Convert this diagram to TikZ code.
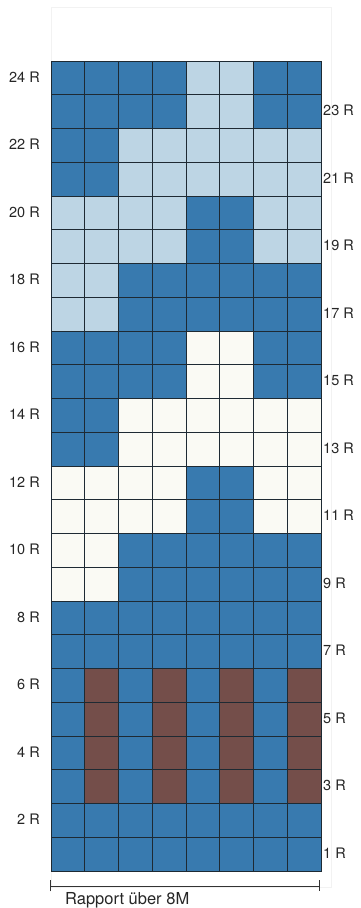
\documentclass[tikz,border=0pt]{standalone}
\usepackage{fontspec}
\setmainfont{TeX Gyre Heros}
\usetikzlibrary{arrows.meta, positioning}
\definecolor{dk}{HTML}{387AAF}
\definecolor{lt}{HTML}{BDD5E4}
\definecolor{wh}{HTML}{FAFAF4}
\definecolor{bn}{HTML}{744E4A}
\definecolor{gridline}{HTML}{1E2A33}

\begin{document}
\begin{tikzpicture}[
    x=1pt, y=1pt,
    cell/.style={draw=gridline, line width=0.8pt},
    rowlabel/.style={font=\fontsize{14.5}{16}\selectfont, text=black!85, inner sep=0pt},
    rapport/.style={font=\fontsize{16.5}{18}\selectfont, text=black!85, inner sep=0pt}
  ]
  \useasboundingbox (0,0) rectangle (360,908);
  \draw[black!5, line width=0.8pt] (51,21) rectangle (331,901);
  % chart, row 24 at top
  \foreach \r/\cols in {
      24/{dk,dk,dk,dk,lt,lt,dk,dk}, 23/{dk,dk,dk,dk,lt,lt,dk,dk},
      22/{dk,dk,lt,lt,lt,lt,lt,lt}, 21/{dk,dk,lt,lt,lt,lt,lt,lt},
      20/{lt,lt,lt,lt,dk,dk,lt,lt}, 19/{lt,lt,lt,lt,dk,dk,lt,lt},
      18/{lt,lt,dk,dk,dk,dk,dk,dk}, 17/{lt,lt,dk,dk,dk,dk,dk,dk},
      16/{dk,dk,dk,dk,wh,wh,dk,dk}, 15/{dk,dk,dk,dk,wh,wh,dk,dk},
      14/{dk,dk,wh,wh,wh,wh,wh,wh}, 13/{dk,dk,wh,wh,wh,wh,wh,wh},
      12/{wh,wh,wh,wh,dk,dk,wh,wh}, 11/{wh,wh,wh,wh,dk,dk,wh,wh},
      10/{wh,wh,dk,dk,dk,dk,dk,dk}, 9/{wh,wh,dk,dk,dk,dk,dk,dk},
      8/{dk,dk,dk,dk,dk,dk,dk,dk}, 7/{dk,dk,dk,dk,dk,dk,dk,dk},
      6/{dk,bn,dk,bn,dk,bn,dk,bn}, 5/{dk,bn,dk,bn,dk,bn,dk,bn},
      4/{dk,bn,dk,bn,dk,bn,dk,bn}, 3/{dk,bn,dk,bn,dk,bn,dk,bn},
      2/{dk,dk,dk,dk,dk,dk,dk,dk}, 1/{dk,dk,dk,dk,dk,dk,dk,dk}}
    \foreach \c [count=\i] in \cols
      \draw[cell, fill=\c] ({51+(\i-1)*33.75}, {37+(\r-1)*33.75}) rectangle ++(33.75,33.75);
  % row numbers
  \foreach \r in {2,4,...,24}
    \node[rowlabel, anchor=east] (row\r) at (40, {38+(\r-0.5)*33.75}) {\r\ R};
  \foreach \r in {1,3,...,23}
    \node[rowlabel, anchor=west] (row\r) at (323, {38+(\r-0.5)*33.75}) {\r\ R};
  % repeat
  \coordinate (rapL) at (50,22);
  \coordinate (rapR) at (320,22);
  \draw[{Bar[width=11pt]}-{Bar[width=11pt]}, line width=0.8pt, black!80] (rapL) -- (rapR);
  \node[rapport, anchor=base west] (rapText) at (65,4) {Rapport über 8M};
\end{tikzpicture}
\end{document}
